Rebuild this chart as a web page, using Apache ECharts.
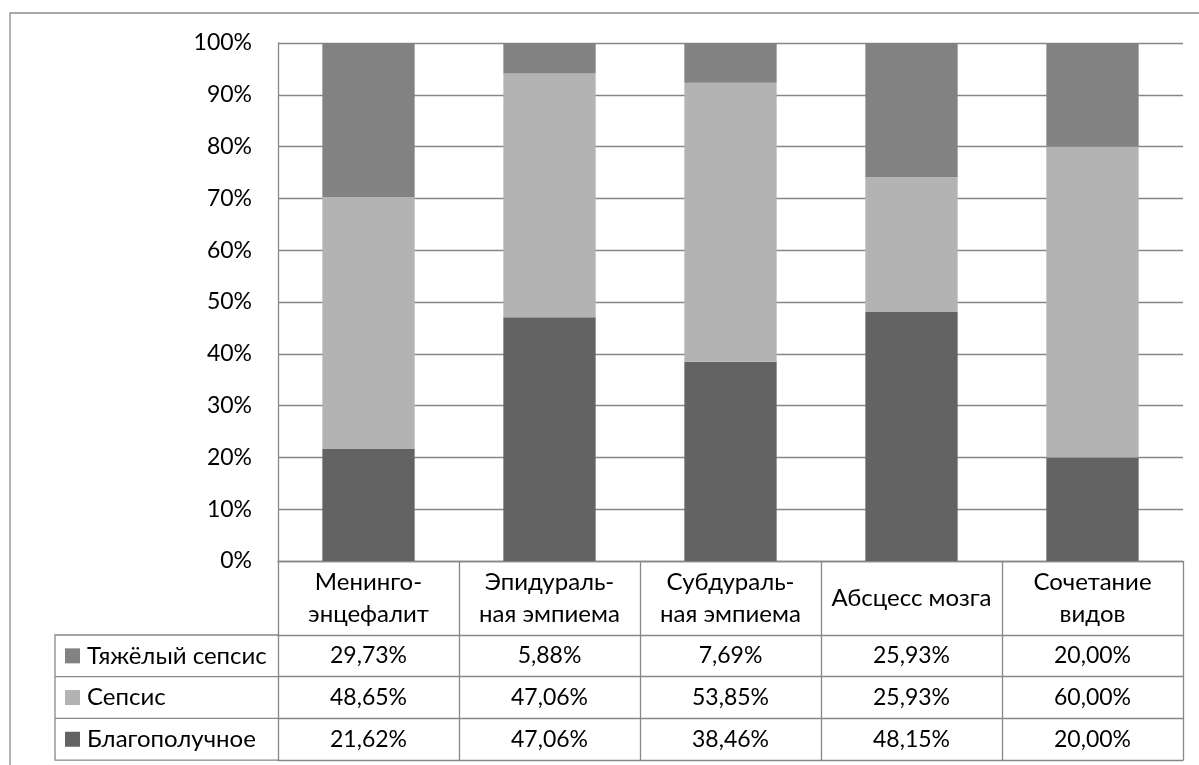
<!DOCTYPE html>
<html>
<head>
<meta charset="utf-8">
<script src="https://cdn.jsdelivr.net/npm/echarts@6/dist/echarts.min.js"></script>
<style>
  html, body { margin: 0; padding: 0; background: #fff; }
  #chart { width: 1199px; height: 765px; }
</style>
</head>
<body>
<div id="chart"></div>
<script>
// Outcome structure by type of intracranial complication (percent of cases)
const categories = [
  'Менинго-\nэнцефалит',
  'Эпидураль-\nная эмпиема',
  'Субдураль-\nная эмпиема',
  'Абсцесс мозга',
  'Сочетание\nвидов'
];
const severeSepsis = [29.73, 5.88, 7.69, 25.93, 20.00];
const sepsis       = [48.65, 47.06, 53.85, 25.93, 60.00];
const favourable   = [21.62, 47.06, 38.46, 48.15, 20.00];
const seriesNames  = ['Тяжёлый сепсис', 'Сепсис', 'Благополучное'];
const yTicks = [0, 10, 20, 30, 40, 50, 60, 70, 80, 90, 100];

// Layout of the plot and of the data table beneath it
const W = 1199, H = 765;
const GRID = { left: 278, right: 16, top: 43, bottom: 204 };
const HEADER_H = 74;
const ROW_H = 41.7;
const TABLE_LEFT = 55;
const LINE = '#878787';
const FONT = 'Lato';
const FS_TEXT = 24;
const FS_NUM = 23;

// Table rows, top to bottom, in the same order as the legend
const tableRows = [severeSepsis, sepsis, favourable];
const fmt = v => v.toFixed(2).replace('.', ',') + '%';

const chart = echarts.init(document.getElementById('chart'), null, { renderer: 'canvas' });

const baseX = {
  type: 'category',
  data: categories,
  position: 'bottom',
  gridIndex: 0,
  axisTick: { show: false },
  splitLine: { show: false },
  axisLine: { show: true, lineStyle: { color: LINE, width: 1.3 } }
};

const xAxes = [
  Object.assign({}, baseX, {
    axisTick: { show: true, alignWithLabel: false, interval: 0,
                length: HEADER_H + ROW_H * 3, lineStyle: { color: LINE, width: 1.3 } },
    axisLabel: {
      interval: 0, margin: HEADER_H / 2, verticalAlign: 'middle',
      fontFamily: FONT, fontSize: FS_TEXT, lineHeight: 32, color: '#000', align: 'center'
    }
  })
];
tableRows.forEach((row, k) => {
  xAxes.push(Object.assign({}, baseX, {
    offset: HEADER_H + ROW_H * k,
    axisLabel: {
      interval: 0, margin: ROW_H / 2, verticalAlign: 'middle',
      fontFamily: FONT, fontSize: FS_NUM, color: '#000',
      formatter: (v, i) => fmt(row[i])
    }
  }));
});
xAxes.push(Object.assign({}, baseX, {
  offset: HEADER_H + ROW_H * 3,
  axisLabel: { show: false }
}));

const colors = { 'Тяжёлый сепсис': '#828282', 'Сепсис': '#b3b3b3', 'Благополучное': '#636363' };

function barSeries(name, data) {
  return {
    name, type: 'bar', stack: 'total', data,
    xAxisIndex: 0, yAxisIndex: 0,
    barCategoryGap: '49%',
    itemStyle: { color: colors[name] },
    emphasis: { disabled: true }
  };
}

// Left part of the table (legend column) and the outer chart frame
const tableBottom = H - GRID.bottom + HEADER_H + ROW_H * 3;
const legendGraphics = [
  {
    type: 'rect', silent: true, z: 0,
    shape: { x: 10, y: 13, width: W + 20, height: H + 20 },
    style: { fill: 'none', stroke: '#8c8c8c', lineWidth: 1.3 }
  },
  {
    type: 'polyline', silent: true,
    shape: { points: [
      [GRID.left, H - GRID.bottom + HEADER_H],
      [TABLE_LEFT, H - GRID.bottom + HEADER_H],
      [TABLE_LEFT, tableBottom],
      [GRID.left, tableBottom]
    ] },
    style: { fill: 'none', stroke: LINE, lineWidth: 1.3 }
  }
];
[1, 2].forEach(k => {
  const y = H - GRID.bottom + HEADER_H + ROW_H * k;
  legendGraphics.push({
    type: 'line', silent: true,
    shape: { x1: TABLE_LEFT, y1: y, x2: GRID.left, y2: y },
    style: { stroke: LINE, lineWidth: 1.3 }
  });
});

chart.setOption({
  backgroundColor: '#fff',
  animation: false,
  grid: { left: GRID.left, right: GRID.right, top: GRID.top, bottom: GRID.bottom, containLabel: false },
  legend: {
    data: seriesNames,
    orient: 'vertical',
    left: 65,
    top: H - GRID.bottom + HEADER_H + ROW_H / 2 - 12,
    itemWidth: 15, itemHeight: 15,
    itemGap: ROW_H - 24,
    icon: 'rect',
    padding: 0,
    selectedMode: false,
    textStyle: { fontFamily: FONT, fontSize: FS_TEXT, lineHeight: 24, color: '#000', padding: [0, 0, 0, 2] }
  },
  xAxis: xAxes,
  yAxis: {
    type: 'value',
    min: yTicks[0], max: yTicks[yTicks.length - 1], interval: yTicks[1] - yTicks[0],
    axisLine: { show: true, lineStyle: { color: LINE, width: 1.3 } },
    axisTick: { show: false },
    splitLine: { show: true, lineStyle: { color: LINE, width: 1.3 } },
    axisLabel: { margin: 26, fontFamily: FONT, fontSize: FS_NUM, color: '#000', formatter: '{value}%' }
  },
  series: [
    barSeries('Благополучное', favourable),
    barSeries('Сепсис', sepsis),
    barSeries('Тяжёлый сепсис', severeSepsis)
  ],
  graphic: legendGraphics
});
</script>
</body>
</html>
